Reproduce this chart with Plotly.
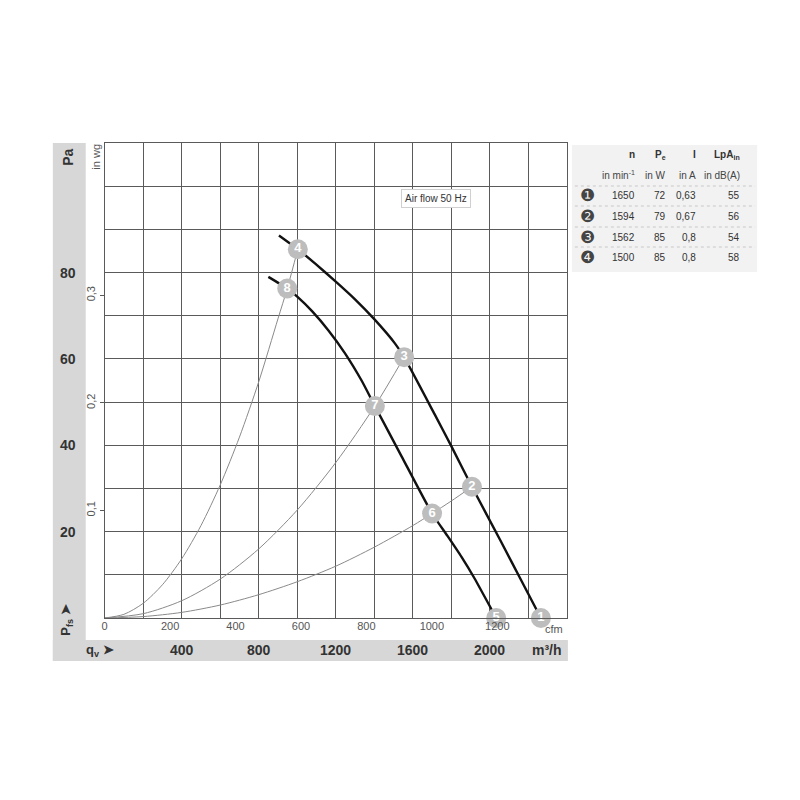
import plotly.graph_objects as go

# ---------------- data ----------------
# fan curve through operating points 4-3-2-1 (m3/h, Pa)
curve_a_flow = [905, 1003, 1095, 1200, 1300, 1400, 1507, 1555, 1713, 1800, 1907, 2059, 2162, 2265]
curve_a_pa   = [88.6, 85.4, 82.0, 77.9, 73.8, 69.2, 63.6, 60.4, 47.2, 39.8, 30.4, 17.6, 8.8, 0.0]
# fan curve through operating points 8-7-6-5
curve_b_flow = [850, 948, 1000, 1078, 1162, 1248, 1334, 1403, 1541, 1700, 1780, 1852, 1920, 2033]
curve_b_pa   = [79.0, 76.3, 74.4, 71.0, 66.6, 61.3, 55.0, 49.1, 37.5, 24.2, 19.0, 14.2, 9.2, 0.0]
# system (resistance) curves
sys1_flow = [0, 100, 200, 300, 400, 500, 600, 700, 800, 900, 948, 1003]
sys1_pa   = [0, 0.85, 3.4, 7.7, 13.7, 21.4, 30.8, 41.9, 54.7, 69.3, 76.3, 85.4]
sys2_flow = [0, 200, 400, 600, 800, 1000, 1200, 1403, 1555]
sys2_pa   = [0, 1.0, 4.0, 9.0, 16.0, 25.0, 36.0, 49.1, 60.4]
sys3_flow = [0, 200, 400, 600, 800, 1000, 1200, 1400, 1600, 1700, 1800, 1907]
sys3_pa   = [0, 0.33, 1.3, 3.0, 5.4, 8.4, 12.0, 16.4, 21.4, 24.2, 27.1, 30.4]
# numbered operating points
point_labels = ["1", "2", "3", "4", "5", "6", "7", "8"]
point_flow   = [2265, 1907, 1555, 1003, 2033, 1700, 1403, 948]
point_pa     = [0.0, 30.4, 60.4, 85.4, 0.0, 24.2, 49.1, 76.3]

# axis tick labels
pa_ticks      = [20, 40, 60, 80]
m3h_ticks     = [400, 800, 1200, 1600, 2000]
cfm_ticks     = [0, 200, 400, 600, 800, 1000, 1200]
inwg_ticks    = [0.1, 0.2, 0.3]
inwg_text     = ["0,1", "0,2", "0,3"]

# table
row_ids   = ["❶", "❷", "❸", "❹"]
speed_rpm = ["1650", "1594", "1562", "1500"]
power_w   = ["72", "79", "85", "85"]
current_a = ["0,63", "0,67", "0,8", "0,8"]
noise_db  = ["55", "56", "54", "58"]
table_heads = ["n", "P<sub>e</sub>", "I", "LpA<sub>in</sub>"]
table_units = ["in min<sup>-1</sup>", "in W", "in A", "in dB(A)"]

# ---------------- layout helpers ----------------
OFF = 8            # page body margin
W = H = 800 - OFF
def px(x):  # window pixel x -> paper
    return (x - OFF) / W
def py(y):  # window pixel y (from top) -> paper
    return 1 - (y - OFF) / H

FONT = "Liberation Sans, Arial, Helvetica, sans-serif"
GRID = "#5a5a5a"
M3H_MAX = 2400
PA_MAX = 110

fig = go.Figure()

for fx, fy in [(sys1_flow, sys1_pa), (sys2_flow, sys2_pa), (sys3_flow, sys3_pa)]:
    fig.add_trace(go.Scatter(x=fx, y=fy, mode="lines",
                             line=dict(color="#8a8a8a", width=1, shape="spline", smoothing=0.8),
                             hoverinfo="skip", showlegend=False))
for fx, fy in [(curve_a_flow, curve_a_pa), (curve_b_flow, curve_b_pa)]:
    fig.add_trace(go.Scatter(x=fx, y=fy, mode="lines",
                             line=dict(color="#111111", width=2.4, shape="spline", smoothing=0.5),
                             hoverinfo="skip", showlegend=False))

fig.add_trace(go.Scatter(x=point_flow, y=point_pa, mode="markers+text",
                         text=[f"<b>{t}</b>" for t in point_labels],
                         textposition="middle center",
                         textfont=dict(family=FONT, size=13, color="white"),
                         marker=dict(size=20, color="#bdbdbd", line=dict(width=0)),
                         cliponaxis=False, showlegend=False, hoverinfo="skip"))

# invisible traces to activate secondary unit axes
fig.add_trace(go.Scatter(x=[0], y=[0], xaxis="x2", yaxis="y", mode="markers",
                         marker=dict(opacity=0), showlegend=False, hoverinfo="skip"))
fig.add_trace(go.Scatter(x=[0], y=[0], xaxis="x", yaxis="y2", mode="markers",
                         marker=dict(opacity=0), showlegend=False, hoverinfo="skip"))

x_dom = [px(102), px(566)]
y_dom = [py(618), py(143)]

fig.update_layout(
    width=W, height=H, margin=dict(l=0, r=0, t=0, b=0),
    paper_bgcolor="white", plot_bgcolor="white",
    font=dict(family=FONT, color="#333"),
    xaxis=dict(domain=x_dom, range=[0, M3H_MAX], dtick=200, showgrid=True, gridcolor=GRID,
               gridwidth=1, zeroline=False, showticklabels=False, showline=True,
               linecolor=GRID, mirror=True, fixedrange=True),
    yaxis=dict(domain=y_dom, range=[0, PA_MAX], dtick=10, showgrid=True, gridcolor=GRID,
               gridwidth=1, zeroline=False, showticklabels=False, showline=True,
               linecolor=GRID, mirror=True, fixedrange=True),
    xaxis2=dict(overlaying="x", anchor="y", side="bottom", range=[0, M3H_MAX / 1.69901],
                tickvals=cfm_ticks, showgrid=False, zeroline=False, showline=False,
                tickfont=dict(size=11, color="#555"), ticks=""),
    yaxis2=dict(overlaying="y", anchor="x", side="left", range=[0, PA_MAX / 249.089],
                tickvals=inwg_ticks, ticktext=inwg_text, tickangle=-90, showgrid=False,
                zeroline=False, showline=False, ticks="outside", ticklen=4, tickcolor=GRID,
                tickfont=dict(size=11, color="#555")),
)

shapes = []
BAND = "#d7d7d7"
shapes.append(dict(type="rect", xref="paper", yref="paper", x0=px(50), x1=px(83),
                   y0=py(661), y1=py(143), fillcolor=BAND, line=dict(width=0), layer="below"))
shapes.append(dict(type="rect", xref="paper", yref="paper", x0=px(50), x1=px(567),
                   y0=py(661), y1=py(640), fillcolor=BAND, line=dict(width=0), layer="below"))
shapes.append(dict(type="rect", xref="paper", yref="paper", x0=px(571), x1=px(757),
                   y0=py(272), y1=py(145), fillcolor="#f2f2f2", line=dict(width=0), layer="below"))
for yy in [186, 206, 227, 247]:
    shapes.append(dict(type="line", xref="paper", yref="paper", x0=px(574), x1=px(755),
                       y0=py(yy), y1=py(yy), line=dict(color="#c8c8c8", width=1, dash="dot")))
fig.update_layout(shapes=shapes)

ann = []
def A(text, x, y, xref="paper", yref="paper", size=14, bold=True, color="#333",
      xanchor="center", yanchor="middle", angle=0, **kw):
    t = f"<b>{text}</b>" if bold else text
    d = dict(text=t, x=x, y=y, xref=xref, yref=yref, showarrow=False,
             font=dict(family=FONT, size=size, color=color),
             xanchor=xanchor, yanchor=yanchor, textangle=angle)
    d.update(kw)
    ann.append(d)

# left band
A("Pa", px(65), py(157), angle=-90)
for v in pa_ticks:
    A(str(v), px(65), v, yref="y")
A("P<sub>fs</sub> ➤", px(63), py(620), angle=-90, size=13)
# bottom band
for v in m3h_ticks:
    A(str(v), v, py(650), xref="x")
A("q<sub>v</sub> ➤", px(97), py(650), size=13)
A("m³/h", px(546), py(650))
# secondary unit labels
A("in wg", px(93), py(157), bold=False, size=11, color="#555", angle=-90)
A("cfm", px(553), py(629), bold=False, size=11, color="#555")
# air-flow label
A("Air flow 50 Hz", 1722, 97.2, xref="x", yref="y", bold=False, size=10, color="#333",
  bgcolor="white", bordercolor="#d0d0d0", borderwidth=1, borderpad=3)

# table
col_x = [636, 667, 698, 742]
for cx, h, u in zip(col_x, table_heads, table_units):
    A(h, px(cx), py(155), size=10, xanchor="right")
    A(u, px(cx), py(175), bold=False, size=10, color="#444", xanchor="right")
row_y = [196, 216, 237, 257]
for i, ry in enumerate(row_y):
    A(row_ids[i], px(587), py(ry), bold=False, size=17, color="#444")
    for cx, col in zip(col_x, [speed_rpm, power_w, current_a, noise_db]):
        A(col[i], px(cx), py(ry), bold=False, size=10, color="#333", xanchor="right")

fig.update_layout(annotations=ann)
fig.write_html("out.html")
